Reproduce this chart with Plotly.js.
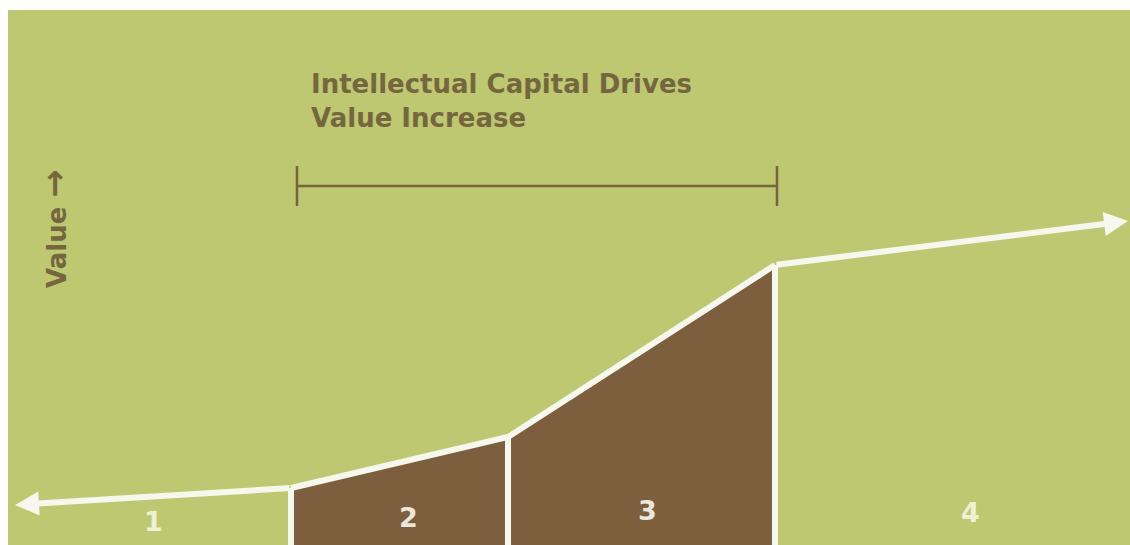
<!DOCTYPE html>
<html>
<head>
<meta charset="utf-8">
<script src="https://cdn.plot.ly/plotly-3.0.1.min.js"></script>
<style>html,body{margin:0;padding:0;background:#fff;}#chart{width:1130px;height:545px;}</style>
</head>
<body>
<div id="chart"></div>
<script>
// ---- data (value units) ----
var timePts   = [7, 283, 500, 767, 1120];   // left tip, stage breaks, right tip
var valuePts  = [40, 57, 108, 280, 324];
var stageNames = ["1", "2", "3", "4"];
var stageLabelX = [145, 400, 639, 962];
var stageLabelY = [24, 28, 35, 33];
var filledStages = [1, 2];                   // index of stages shown in brown
var bracketX = [289, 769];
var bracketY = 359;
var titleLines = ["Intellectual Capital Drives", "Value Increase"];
var yLabel = "Value";

var GREEN = "#bdc871", BROWN = "#7d5f3e", TXT = "#76663f", WHITE = "#f6f7ee";

var traces = [];
filledStages.forEach(function (s) {
  var x0 = timePts[s], x1 = timePts[s + 1];
  traces.push({
    x: [x0, x0, x1, x1, x0], y: [0, valuePts[s], valuePts[s + 1], 0, 0],
    mode: "lines", fill: "toself", fillcolor: BROWN,
    line: {width: 0, color: BROWN}, hoverinfo: "skip", showlegend: false
  });
});
for (var i = 1; i <= 3; i++) {
  traces.push({
    x: [timePts[i], timePts[i]], y: [-5, valuePts[i]],
    mode: "lines", line: {color: WHITE, width: 6}, hoverinfo: "skip", showlegend: false
  });
}
traces.push({
  x: timePts.slice(1, 4), y: valuePts.slice(1, 4),
  mode: "lines", line: {color: WHITE, width: 6, shape: "linear"}, hoverinfo: "skip", showlegend: false
});

var annotations = [];
annotations.push({x: timePts[0], y: valuePts[0], ax: timePts[1], ay: valuePts[1],
  xref: "x", yref: "y", axref: "x", ayref: "y", showarrow: true, text: "",
  arrowhead: 2, arrowsize: 0.8, arrowwidth: 6, arrowcolor: WHITE, standoff: 0, startstandoff: 0});
annotations.push({x: timePts[4], y: valuePts[4], ax: timePts[3], ay: valuePts[3],
  xref: "x", yref: "y", axref: "x", ayref: "y", showarrow: true, text: "",
  arrowhead: 2, arrowsize: 0.8, arrowwidth: 6, arrowcolor: WHITE, standoff: 0, startstandoff: 0});
stageNames.forEach(function (n, k) {
  annotations.push({x: stageLabelX[k], y: stageLabelY[k], xref: "x", yref: "y",
    text: "<b>" + n + "</b>", showarrow: false,
    font: {family: "DejaVu Sans", size: 27, color: filledStages.indexOf(k) >= 0 ? "#ebe7da" : "#eef1d6"}});
});
annotations.push({x: 301, y: 478, xref: "x", yref: "y", xanchor: "left", yanchor: "top",
  align: "left", showarrow: false, text: "<b>" + titleLines.join("<br>") + "</b>",
  font: {family: "DejaVu Sans", size: 26, color: TXT}});
annotations.push({x: 46, y: 316, xref: "x", yref: "y", textangle: -90, showarrow: false,
  text: "<b>" + yLabel + " <span style=\"font-size:34px\">\u2192</span></b>",
  font: {family: "DejaVu Sans", size: 26, color: TXT}});

var shapes = [
  {type: "line", xref: "x", yref: "y", x0: bracketX[0], x1: bracketX[1], y0: bracketY, y1: bracketY, line: {color: TXT, width: 2.5}},
  {type: "line", xref: "x", yref: "y", x0: bracketX[0], x1: bracketX[0], y0: bracketY - 20, y1: bracketY + 20, line: {color: TXT, width: 2.5}},
  {type: "line", xref: "x", yref: "y", x0: bracketX[1], x1: bracketX[1], y0: bracketY - 20, y1: bracketY + 20, line: {color: TXT, width: 2.5}}
];

var layout = {
  width: 1130, height: 545,
  margin: {l: 8, r: 0, t: 10, b: 0},
  paper_bgcolor: "#ffffff", plot_bgcolor: GREEN,
  xaxis: {range: [0, 1122], visible: false, fixedrange: true},
  yaxis: {range: [0, 535], visible: false, fixedrange: true},
  showlegend: false,
  annotations: annotations, shapes: shapes
};
Plotly.newPlot("chart", traces, layout, {displayModeBar: false, staticPlot: true});
</script>
</body>
</html>
